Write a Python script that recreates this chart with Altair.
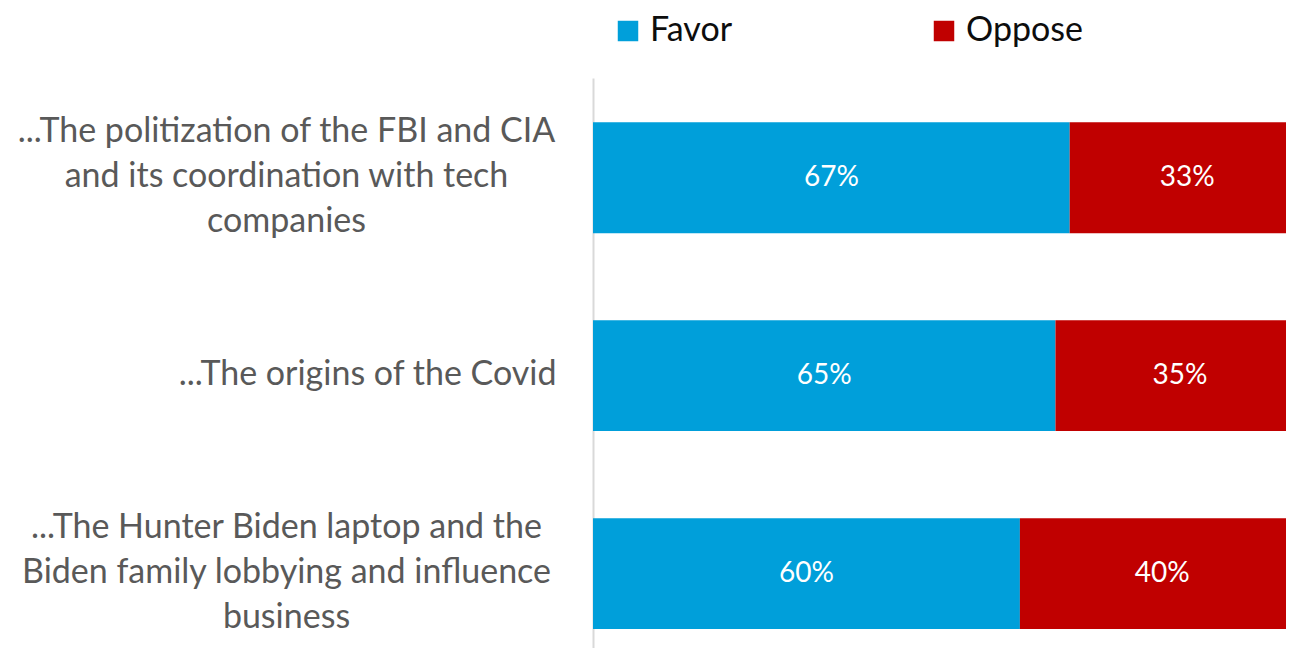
import altair as alt
import pandas as pd

categories = [
    "...The politization of the FBI and CIA|and its coordination with tech|companies",
    "...The origins of the Covid",
    "...The Hunter Biden laptop and the|Biden family lobbying and influence|business",
]
favor = [67, 65, 60]
oppose = [33, 35, 40]
series = ["Favor", "Oppose"]
colors = ["#009FDA", "#C00000"]

rows = []
for i, c in enumerate(categories):
    start = 0
    for s, v in zip(series, [favor[i], oppose[i]]):
        rows.append({"cat": c, "series": s, "value": v, "start": start,
                     "end": start + v, "mid": start + v / 2, "label": f"{v}%"})
        start += v
df = pd.DataFrame(rows)

FONT = "Lato"
covid = categories[1]
is_covid = f"datum.value == '{covid}'"

y_enc = alt.Y(
    "cat:N",
    sort=categories,
    title=None,
    scale=alt.Scale(paddingInner=0.44, paddingOuter=0.16, align=0.7),
    axis=alt.Axis(
        labelExpr="split(datum.label, '|')",
        labelFont=FONT,
        labelFontSize=34,
        labelColor="#595959",
        labelLineHeight=45,
        labelLimit=0,
        labelBaseline="middle",
        labelAlign=alt.condition(is_covid, alt.value("right"), alt.value("center")),
        labelPadding=alt.condition(is_covid, alt.value(37), alt.value(307)),
        labelOffset=alt.condition(is_covid, alt.value(-1), alt.value(-46)),
        ticks=False,
        grid=False,
        domainColor="#D9D9D9",
        domainWidth=2,
    ),
)

x_scale = alt.Scale(domain=[0, 97.4], nice=False, zero=True)

bars = alt.Chart(df).mark_bar(clip=True).encode(
    y=y_enc,
    x=alt.X("start:Q", scale=x_scale, axis=None),
    x2="end:Q",
    color=alt.Color(
        "series:N",
        scale=alt.Scale(domain=series, range=colors),
        legend=alt.Legend(
            title=None,
            orient="none",
            direction="horizontal",
            legendX=18,
            legendY=-64,
            symbolType="square",
            symbolSize=420,
            symbolStrokeWidth=0,
            labelFont=FONT,
            labelFontSize=34,
            labelColor="#0D0D0D",
            labelOffset=5,
            labelLimit=400,
            columnPadding=194,
        ),
    ),
)

text = alt.Chart(df).mark_text(font=FONT, fontSize=28, color="white", clip=False).encode(
    y=alt.Y("cat:N", sort=categories),
    x=alt.X("mid:Q", scale=x_scale, axis=None),
    text="label:N",
)

chart = (
    alt.layer(bars, text)
    .properties(
        width=693,
        height=570,
        background="white",
        autosize=alt.AutoSizeParams(type="none"),
        padding={"left": 585, "top": 70, "right": 0, "bottom": 0},
    )
    .configure_view(stroke="transparent", strokeWidth=0)
)

chart.save("out.html", embed_options={"renderer": "svg", "actions": False})
